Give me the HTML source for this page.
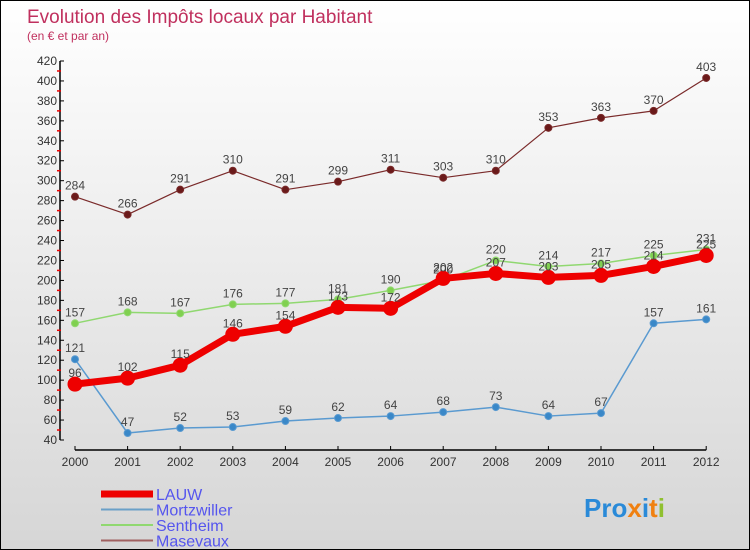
<!DOCTYPE html>
<html><head><meta charset="utf-8"><style>
body{margin:0}
#c{width:748px;height:548px;border:1px solid #000;background:linear-gradient(#ffffff,#d6d6d6);position:relative;font-family:"Liberation Sans",sans-serif}
</style></head><body>
<div id="c">
<svg id="s" width="748" height="548" xmlns="http://www.w3.org/2000/svg" style="position:absolute;left:0;top:0">
<text x="26" y="22" font-size="19" fill="#c0305e">Evolution des Impôts locaux par Habitant</text>
<text x="26" y="39" font-size="12" fill="#c0305e">(en € et par an)</text>
<g id="axes"></g><g id="series"></g><g id="legend"></g>
<text x="583" y="516" font-size="26" font-weight="bold"><tspan fill="#2a8ad8">Pro</tspan><tspan fill="#f08010">x</tspan><tspan fill="#2a8ad8">i</tspan><tspan fill="#f08010">t</tspan><tspan fill="#90c030">i</tspan></text>
</svg>
</div>
<script>
const years=[2000,2001,2002,2003,2004,2005,2006,2007,2008,2009,2010,2011,2012];
const yTicks=[40,60,80,100,120,140,160,180,200,220,240,260,280,300,320,340,360,380,400,420];
const lauw=[96,102,115,146,154,173,172,202,207,203,205,214,225];
const mortzwiller=[121,47,52,53,59,62,64,68,73,64,67,157,161];
const sentheim=[157,168,167,176,177,181,190,200,220,214,217,225,231];
const masevaux=[284,266,291,310,291,299,311,303,310,353,363,370,403];
const NS="http://www.w3.org/2000/svg";
function X(i){return 74+i*52.6;}
function Y(v){return 439-(v-40)*(379/380);}
function mk(t,a,p){const e=document.createElementNS(NS,t);for(const k in a)e.setAttribute(k,a[k]);p.appendChild(e);return e;}
const ax=document.getElementById('axes');
let yl=mk('line',{x1:59,y1:Y(420),x2:59,y2:Y(40),stroke:'#000','stroke-width':1.5},ax);


yTicks.forEach(v=>{
 mk('line',{x1:59,y1:Y(v),x2:63,y2:Y(v),stroke:'#000'},ax);
 if(v<420) mk('line',{x1:56,y1:Y(v+10),x2:60,y2:Y(v+10),stroke:'#e00','stroke-width':1.5},ax);
 const t=mk('text',{x:56,y:Y(v)+4,'text-anchor':'end','font-size':12,fill:'#333'},ax);t.textContent=v;
 
 
});
let xl=mk('line',{x1:X(0),y1:449,x2:X(12),y2:449,stroke:'#000','stroke-width':1.5},ax);


years.forEach((y,i)=>{
 mk('line',{x1:X(i),y1:445,x2:X(i),y2:449,stroke:'#000'},ax);
 const t=mk('text',{x:X(i),y:465,'text-anchor':'middle','font-size':12,fill:'#333'},ax);t.textContent=y;
 
 
});
const sr=document.getElementById('series');
function draw(vals,color,w,r,dot,name){
 const g=mk('g',{},sr);
 
 
 mk('polyline',{points:vals.map((v,i)=>X(i)+','+Y(v)).join(' '),fill:'none',stroke:color,'stroke-width':w,'stroke-linejoin':'round'},g);
 vals.forEach((v,i)=>{
  const c=mk('circle',{cx:X(i),cy:Y(v),r:r,fill:dot,stroke:color,'stroke-width':1},g);
  
  
  const t=mk('text',{x:X(i),y:Y(v)-7,'text-anchor':'middle','font-size':12,fill:'#444'},g);t.textContent=v;
  
  
 });
}
draw(masevaux,'#7a2a2a',1.2,3.5,'#6a1a1a','masevaux');
draw(sentheim,'#90d870',1.5,3.5,'#80d050','sentheim');
draw(mortzwiller,'#5a9ad0',1.5,3.5,'#3a88c8','mortzwiller');
draw(lauw,'#ee0000',7,7,'#ee0000','lauw');
const lg=document.getElementById('legend');
const legNames=['LAUW','Mortzwiller','Sentheim','Masevaux'];
const legCol=['#ee0000','#6aa0c8','#90d870','#a06060'];
const legW=[7,2,2,2];
legNames.forEach((n,i)=>{
 const y=492+i*15.5;
 const g=mk('g',{},lg);
 
 
 mk('line',{x1:100,y1:y+1,x2:152,y2:y+1,stroke:legCol[i],'stroke-width':legW[i]},g);
 const t=mk('text',{x:155,y:y+7,'font-size':16,fill:'#5555ee'},g);t.textContent=n;
});
</script>
</body></html>
